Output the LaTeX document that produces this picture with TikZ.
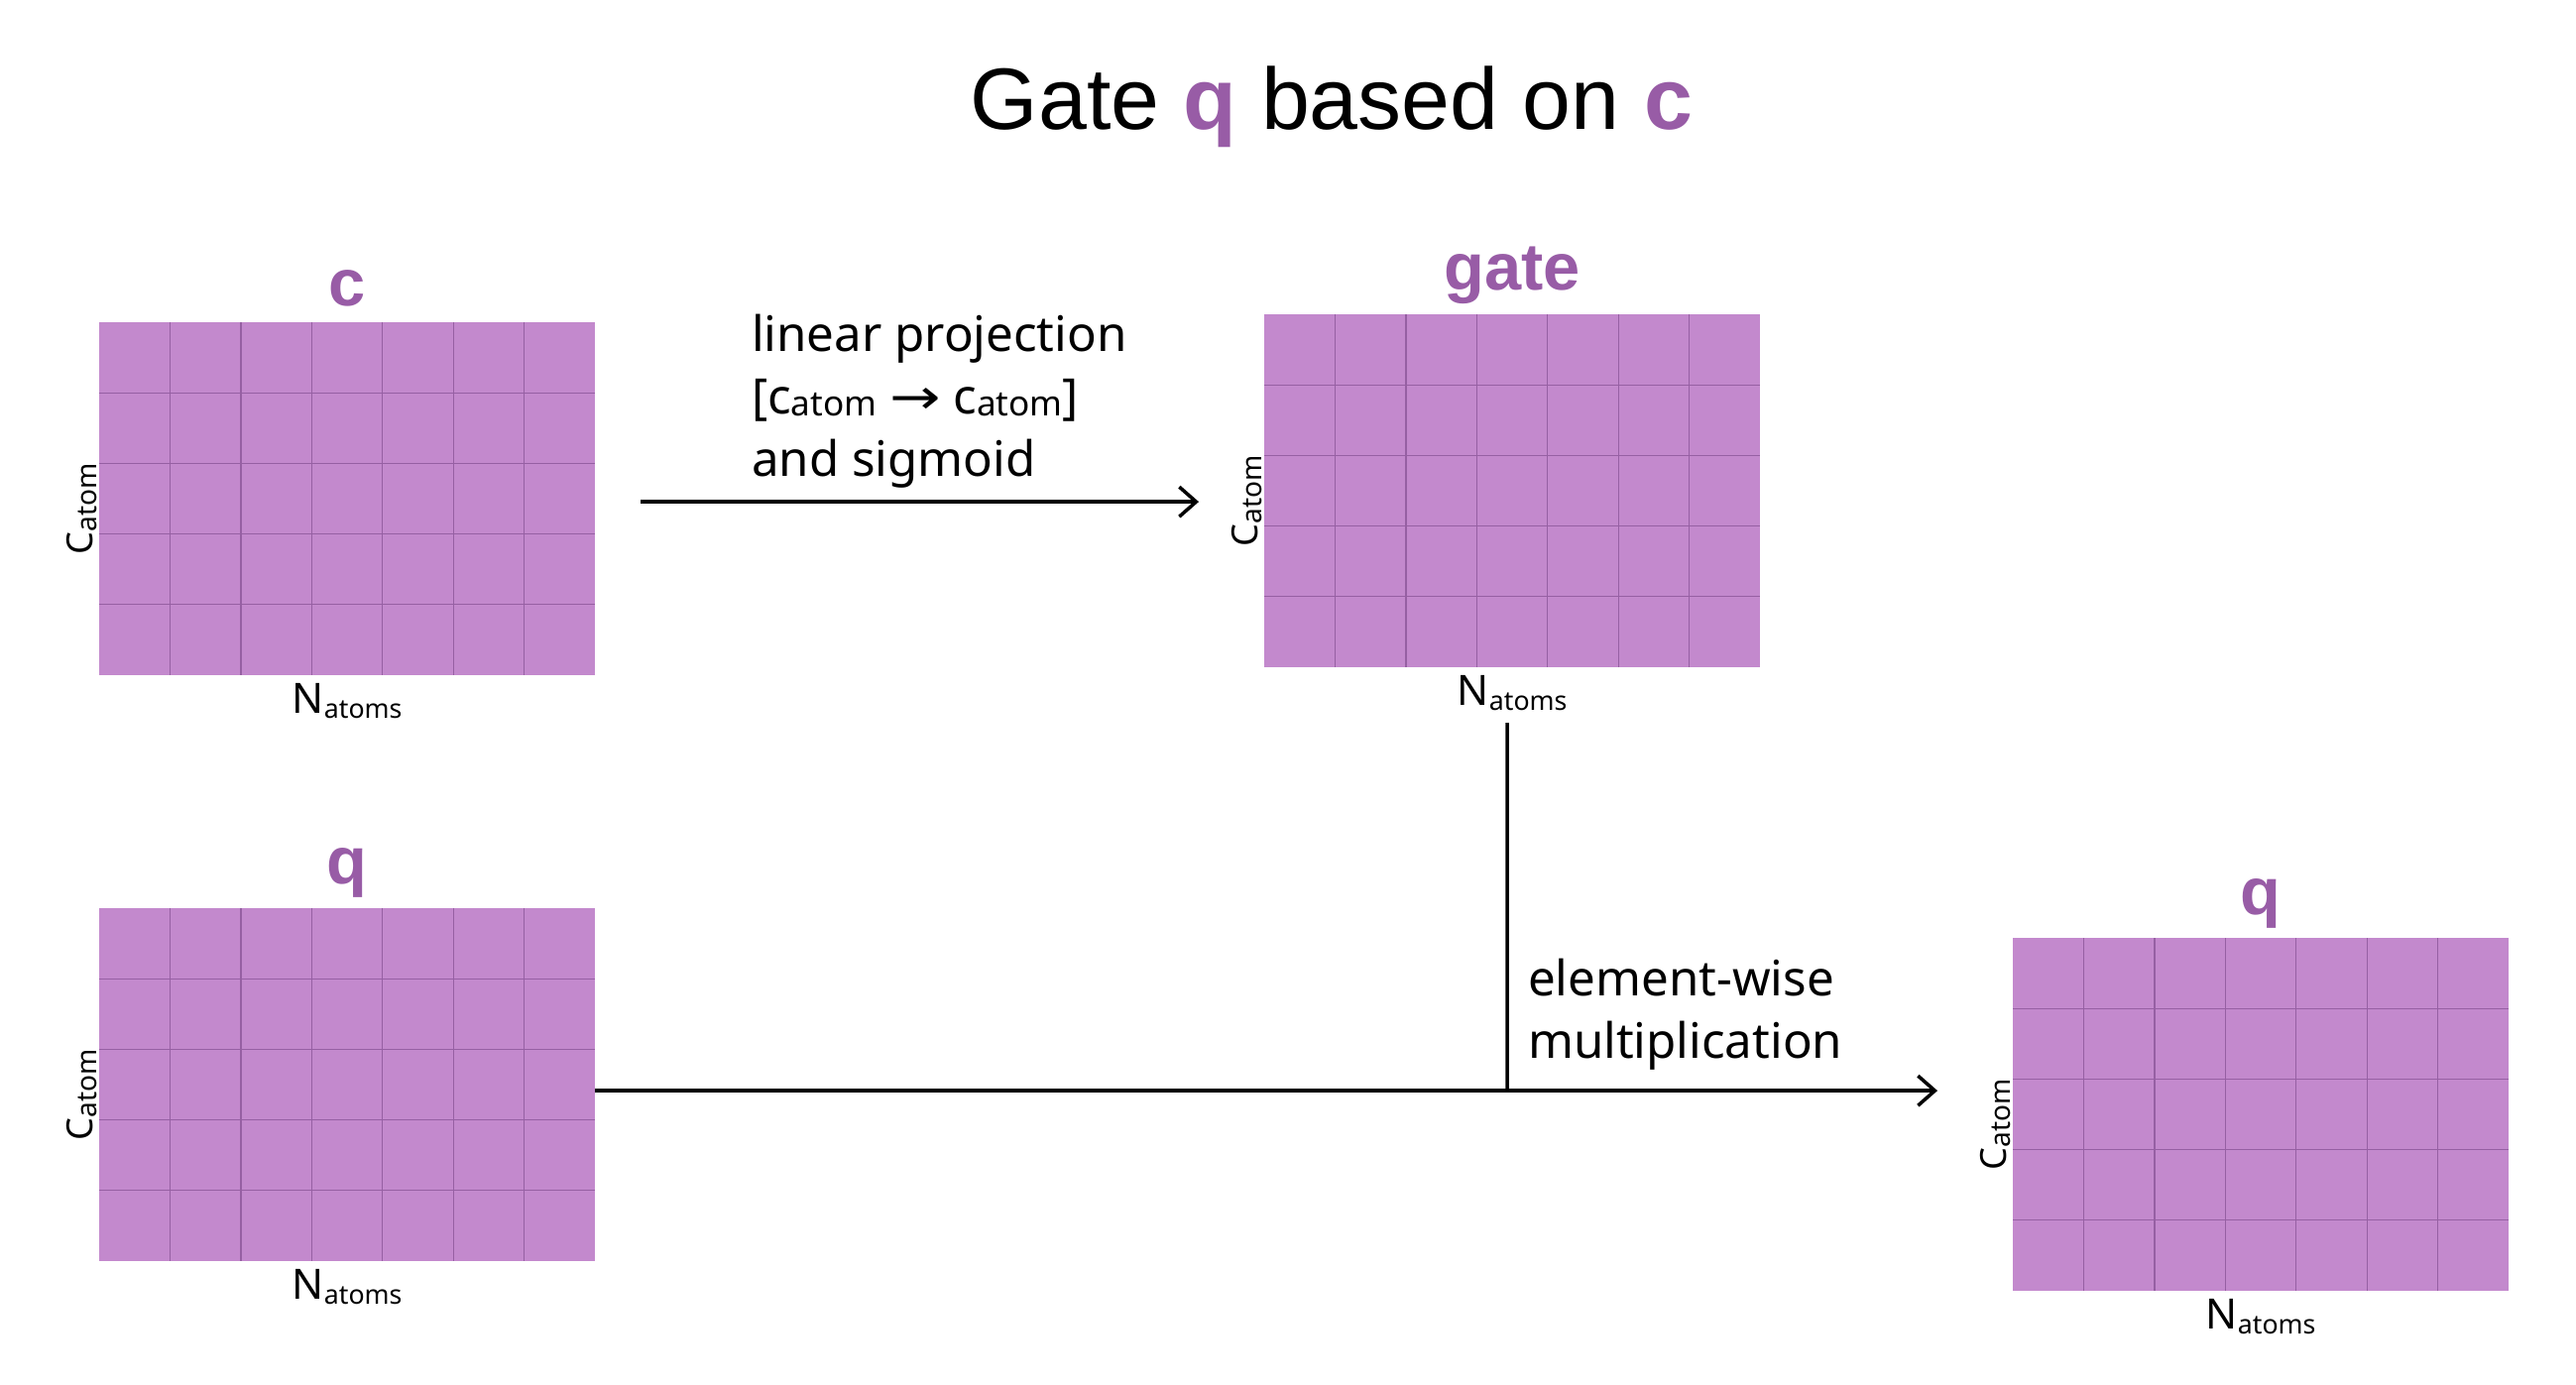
\documentclass[tikz,border=0pt]{standalone}
\usepackage{fontspec}
\setmainfont{Noto Sans}
\newfontfamily\titlefont{Liberation Sans}
\newfontfamily\arrowfont{DejaVu Sans}
\usetikzlibrary{arrows.meta,calc}
\definecolor{gridfill}{HTML}{C389CD}
\definecolor{labpurple}{HTML}{985CA6}
\definecolor{gridln}{HTML}{9660A3}
\newcommand{\lowsub}[3]{\raisebox{#3}{\fontsize{#2}{#2}\selectfont #1}}
\newcommand{\matgrid}[3]{%
  \node[gridbox, anchor=north west] (#1) at (#2,#3) {};
  \foreach \k in {1,...,6}{\draw[gridline] ($(#1.north west)+(\k*71.43,0)$) -- ++(0,356);}
  \foreach \k in {1,...,4}{\draw[gridline] ($(#1.north west)+(0,\k*71.2)$) -- ++(500,0);}
  \node[dimC] (#1C) at ($(#1.west)+(-7,10)$) {C\lowsub{atom}{8pt}{-1.4pt}};
  \node[dimN] (#1N) at ($(#1.south)+(0,38)$) {N\lowsub{atoms}{7.6pt}{-1.4pt}};
}
\tikzset{
  every node/.style={inner sep=0pt, outer sep=0pt},
  gridbox/.style={fill=gridfill, draw=none, minimum width=5cm, minimum height=3.56cm, inner sep=0pt},
  gridline/.style={draw=gridln, line width=0.013cm},
  conn/.style={line width=0.035cm, draw=black},
  arr/.style={conn, -{Straight Barb[length=0.17cm,width=0.30cm]}},
  boldlab/.style={font=\titlefont\bfseries\fontsize{19pt}{22pt}\selectfont, text=labpurple, anchor=base},
  body/.style={font=\fontsize{14pt}{17pt}\selectfont, anchor=base west},
  dimN/.style={font=\fontsize{12pt}{14pt}\selectfont, anchor=base},
  dimC/.style={font=\fontsize{10.3pt}{13pt}\selectfont, anchor=base, rotate=90},
}
\begin{document}
\begin{tikzpicture}[x=0.01cm, y=-0.01cm]
\fill[white] (0,0) rectangle (2598,1396);
\useasboundingbox (0,0) rectangle (2598,1396);

% title
\node[anchor=base, font=\titlefont\fontsize{25pt}{30pt}\selectfont] (title) at (1343,130)
  {Gate {\bfseries\color{labpurple}q} based on {\bfseries\color{labpurple}c}};

% matrices
\matgrid{cg}{100}{325}
\matgrid{gg}{1275}{317}
\matgrid{qg}{100}{916}
\matgrid{og}{2030}{946}

% matrix labels
\node[boldlab] (lc) at (350,308) {c};
\node[boldlab] (lg) at (1525,292) {gate};
\node[boldlab] (lq) at (350,891) {q};
\node[boldlab] (lo) at (2280,922) {q};

% projection arrow
\draw[arr] ($(cg.east)+(46,3)$) -- ($(gg.west)+(-66,11)$);
\node[body] (lp1) at (758,354) {linear projection};
\node[body] (lp2) at (758,417) {[c\lowsub{atom}{10pt}{-0.6pt} {\arrowfont\scalebox{1.25}[1]{→}} c\lowsub{atom}{10pt}{-0.6pt}]};
\node[body] (lp3) at (758,480) {and sigmoid};

% multiplication
\coordinate (jn) at (1520,1100);
\draw[arr] ($(qg.east)+(0,6)$) -- ($(og.west)+(-76,-24)$);
\draw[conn] ($(gg.south)+(-5,56)$) -- (jn);
\node[body] (ew1) at (1541,1004) {element-wise};
\node[body] (ew2) at (1541,1067) {multiplication};
\end{tikzpicture}
\end{document}
